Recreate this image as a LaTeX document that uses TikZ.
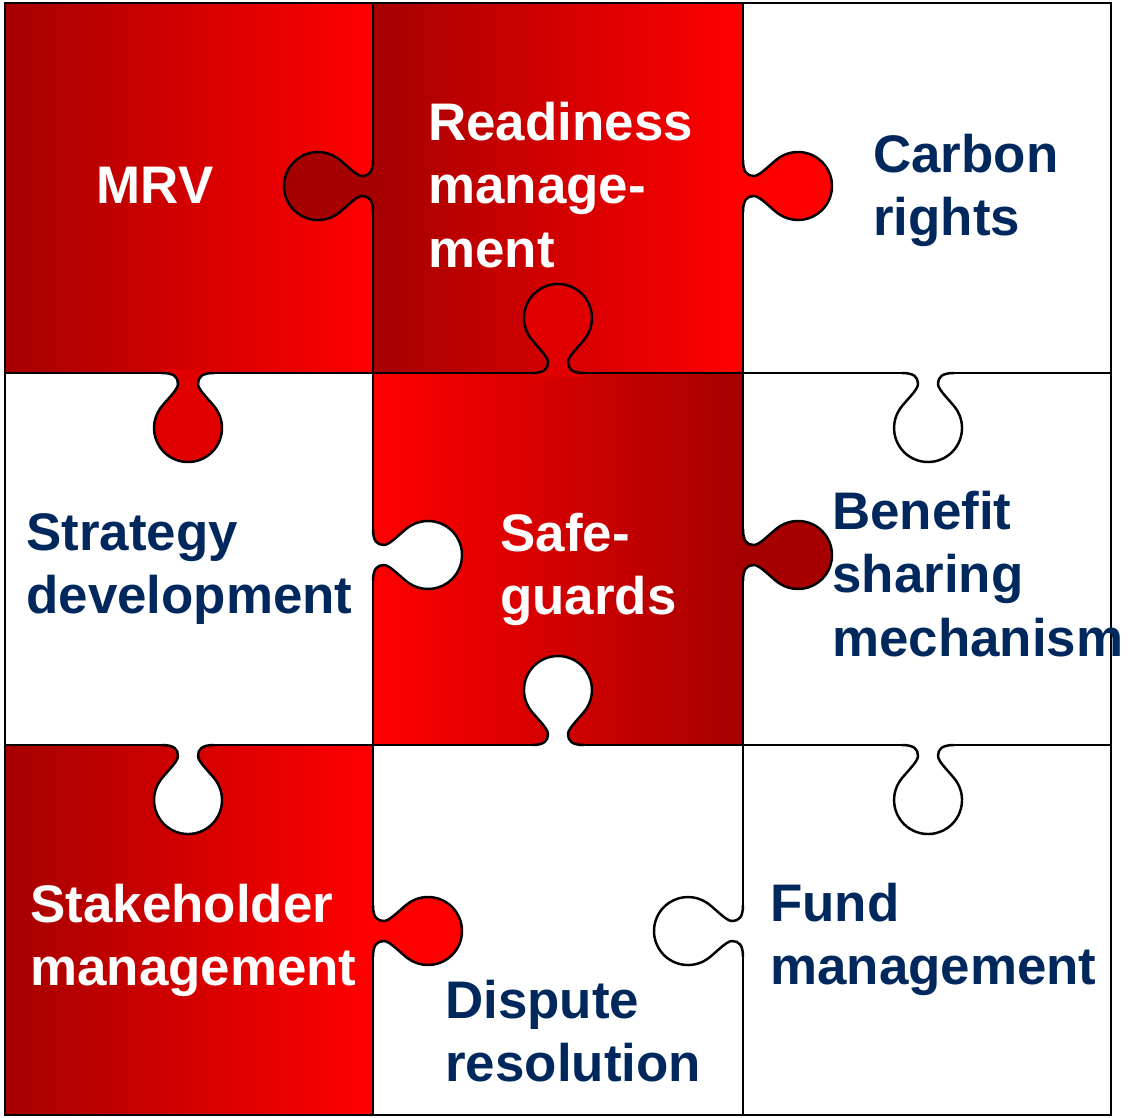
\documentclass[tikz,border=0pt]{standalone}
\usepackage{fontspec}
\setmainfont{Liberation Sans}
\usepackage{tikz}

\definecolor{darkred}{RGB}{166,0,0}
\definecolor{midred}{RGB}{224,0,0}
\definecolor{navy}{RGB}{0,40,92}

% outline of one puzzle knob, pointing along +x, base on the edge x=0
\newcommand{\knobpath}{(0,-26) .. controls (0,-14) and (4,-10) .. (11,-10)
  .. controls (17,-10) and (28.3,-22.9) .. (35.7,-28)
  arc[start angle=-124.6, end angle=124.6, radius=34]
  .. controls (28.3,22.9) and (17,10) .. (11,10)
  .. controls (4,10) and (0,14) .. (0,26)}

\tikzset{
  knob/.pic={\fill[#1] (-4,-26) -- \knobpath -- (-4,26) -- cycle;
             \draw[line width=1.4pt] \knobpath;},
  lbl/.style={font=\bfseries\fontsize{30.1}{36}\selectfont, align=left, inner sep=0pt, anchor=north west},
  onred/.style={lbl, text=white},
  onwhite/.style={lbl, text=navy}
}

\begin{document}
\begin{tikzpicture}[x=0.02cm, y=-0.02cm]
            \useasboundingbox (0,0) rectangle (1128,1117);

            % red pieces
            \shade[left color=darkred, right color=red] (5,3) rectangle (373,373);
            \shade[left color=darkred, right color=red] (373,3) rectangle (743,373);
            \shade[left color=red, right color=darkred] (373,373) rectangle (743,745);
            \shade[left color=darkred, right color=red] (5,745) rectangle (373,1115);

            % grid
            \draw[line width=1.4pt] (5,3) rectangle (1111,1115);
            \draw[line width=1.4pt] (373,3) -- (373,1115);
            \draw[line width=1.4pt] (743,3) -- (743,1115);
            \draw[line width=1.4pt] (5,373) -- (1111,373);
            \draw[line width=1.4pt] (5,745) -- (1111,745);

            % knobs
            \pic[rotate=180] at (373,186) {knob=darkred};
            \pic at (743,186) {knob=red};
            \pic[rotate=90] at (558,373) {knob=midred};
            \pic[rotate=-90] at (188,373) {knob=midred};
            \pic[rotate=-90] at (928,373) {knob=white};
            \pic at (373,555) {knob=white};
            \pic at (743,555) {knob=darkred};
            \pic[rotate=-90] at (188,745) {knob=white};
            \pic[rotate=90] at (558,745) {knob=white};
            \pic[rotate=-90] at (928,745) {knob=white};
            \pic at (373,931) {knob=red};
            \pic[rotate=180] at (743,931) {knob=white};

            % labels
            \node[onred, anchor=center] (mrv) at (155,185) {MRV};
            \node[onred] (readiness) at (428,102) {Readiness\\manage-\\ment};
            \node[onwhite] (carbon) at (873,134) {Carbon\\rights};
            \node[onwhite] (strategy) at (26,513) {Strategy\\development};
            \node[onred] (safeguards) at (500,513) {Safe-\\guards};
            \node[onwhite] (benefit) at (832,491) {Benefit\\sharing\\mechanism};
            \node[onred] (stakeholder) at (30,884) {Stakeholder\\management};
            \node[onwhite] (dispute) at (445,980) {Dispute\\resolution};
            \node[onwhite] (fund) at (770,883) {Fund\\management};
        \end{tikzpicture}
\end{document}
